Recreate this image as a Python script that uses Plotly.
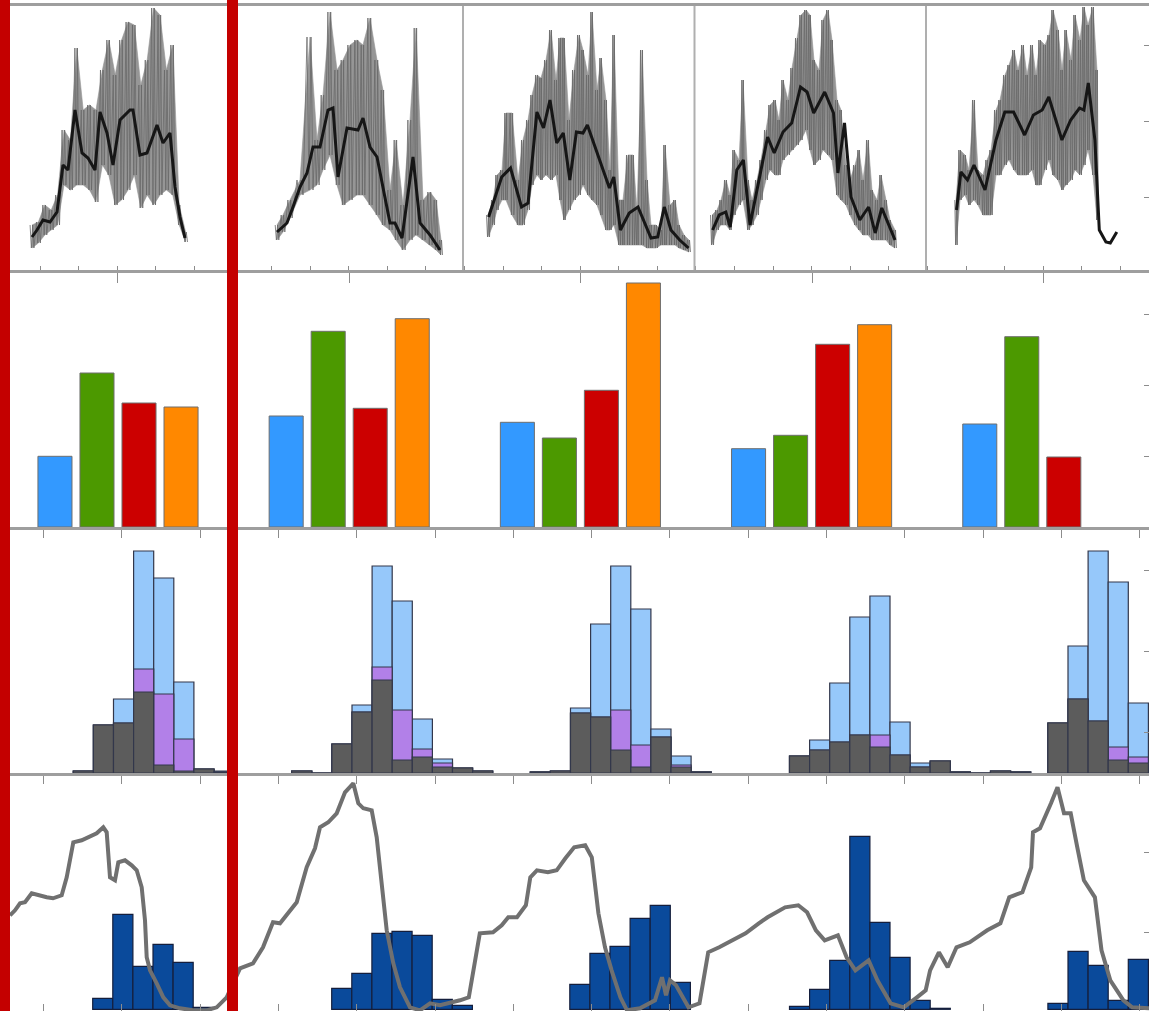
import plotly.graph_objects as go

# ======================= DATA =======================
COL_W = 231.5          # width of one column strip (t units)

# ---- Row 1 : raw (grey) and smoothed (black) series, one per column ----
c1_t = [32, 37, 43, 50, 57, 63, 68, 75, 82, 88, 95, 100, 107, 113, 120, 130, 133, 140, 147, 157, 163, 170, 175, 180, 185]
c1_smooth = [31, 38, 48, 46, 56, 103, 98, 158, 115, 110, 98, 156, 135, 103, 148, 158, 158, 113, 115, 143, 125, 135, 81, 51, 30]
c1_raw_t = [32, 38.4, 44.8, 51.2, 57.6, 64, 70.4, 76.8, 83.2, 89.6, 96, 102.4, 108.8, 115.2, 121.6, 128, 134.4,
            140.8, 147.2, 153.6, 160, 166.4, 172.8, 179.2, 185.6]
c1_raw_hi = [43, 46, 63, 58, 73, 138, 128, 220, 158, 163, 158, 198, 228, 193, 228, 246, 243, 183, 208, 260, 253, 198, 223, 63, 36]
c1_raw_lo = [20, 25, 33, 38, 43, 83, 78, 83, 83, 78, 66, 103, 93, 63, 68, 78, 93, 60, 73, 63, 73, 78, 73, 43, 26]

c2_t = [277, 287, 293, 300, 307, 313, 320, 328, 333, 338, 347, 358, 363, 370, 377, 390, 395, 402, 413, 420, 430, 440]
c2_smooth = [36, 45, 61, 81, 95, 121, 121, 158, 160, 91, 140, 138, 150, 121, 111, 45, 45, 30, 111, 45, 33, 18]
c2_raw_t = [277, 283, 290, 300, 310, 317, 323, 330, 337, 343, 350, 357, 363, 370, 377, 383, 390, 396, 403, 410, 416, 423, 430, 436, 441]
c2_raw_hi = [43, 53, 68, 88, 231, 128, 173, 256, 198, 208, 223, 228, 223, 250, 208, 178, 78, 128, 63, 148, 240, 68, 76, 68, 28]
c2_raw_lo = [28, 36, 50, 73, 78, 83, 98, 113, 83, 63, 68, 73, 73, 63, 53, 43, 38, 28, 18, 28, 33, 28, 23, 18, 13]

c3_t = [488.6, 501.7, 510.5, 521.5, 528.1, 536.9, 543.5, 550, 556.7, 563.3, 569.8, 576.4, 583, 587.4, 609.4, 613.8,
        620.4, 629.2, 638, 651, 657.7, 664.3, 670.9, 679.7, 688.5]
c3_smooth = [51, 91, 100, 61, 65, 156, 140, 168, 125, 135, 88, 136, 135, 143, 80, 91, 38, 55, 61, 30, 31, 61, 38, 28, 20]
c3_raw_t = [488, 493, 497, 502, 506, 512, 518, 523, 528, 532, 537, 541, 546, 551, 556, 560, 564, 569, 574, 579,
            583, 588, 592, 597, 601, 606, 610, 614, 619, 623, 628, 633, 637, 642, 647, 651, 656, 661, 665, 670,
            675, 679, 684, 689]
c3_raw_hi = [53, 68, 93, 98, 155, 155, 88, 128, 148, 173, 193, 190, 208, 238, 188, 230, 230, 148, 198, 233,
             218, 193, 256, 178, 210, 168, 98, 233, 68, 68, 113, 113, 58, 218, 88, 43, 43, 38, 123, 63,
             68, 43, 33, 28]
c3_raw_lo = [31, 43, 58, 68, 68, 53, 43, 43, 58, 83, 93, 88, 93, 88, 93, 68, 48, 58, 68, 73,
             83, 73, 68, 63, 53, 38, 38, 43, 23, 23, 23, 23, 23, 23, 20, 20, 20, 23, 23, 23,
             23, 20, 18, 16]

c4_t = [712.6, 719.2, 725.8, 730.2, 736.8, 743.4, 750, 767.6, 774.2, 783, 791.7, 800.5, 807.1, 813.7, 824.7, 833.5,
        837.9, 844.5, 851, 859.8, 868.6, 875.2, 881.8, 895]
c4_smooth = [38, 53, 56, 41, 98, 108, 43, 131, 115, 136, 145, 181, 176, 155, 176, 155, 95, 145, 71, 48, 61, 35, 60, 28]
c4_raw_t = [712, 717, 721, 726, 730, 734, 739, 743, 748, 752, 757, 761, 766, 770, 775, 779, 783, 788, 792, 797,
            801, 806, 810, 814, 819, 823, 828, 832, 837, 841, 846, 850, 855, 859, 863, 868, 872, 877, 881, 886,
            890, 895]
c4_raw_hi = [53, 58, 68, 88, 73, 118, 108, 188, 88, 68, 88, 108, 138, 163, 168, 148, 188, 168, 200, 230,
             253, 258, 253, 208, 198, 248, 258, 228, 168, 158, 103, 88, 103, 118, 88, 128, 78, 68, 93, 68,
             48, 38]
c4_raw_lo = [23, 38, 43, 43, 38, 53, 63, 68, 38, 43, 53, 68, 88, 98, 93, 93, 108, 113, 118, 123,
             128, 138, 118, 103, 108, 118, 113, 108, 73, 68, 63, 53, 43, 38, 33, 33, 28, 28, 28, 28,
             23, 20]

c5_t = [956.5, 960.9, 967.5, 974, 985, 996, 1004.8, 1013.6, 1024.6, 1033.4, 1042.2, 1048.8, 1061.9, 1070.7,
        1079.5, 1083.9, 1088.3, 1094.9, 1099.3, 1105.9, 1110.3, 1116.8]
c5_smooth = [58, 96, 88, 103, 78, 128, 156, 156, 133, 153, 158, 171, 128, 148, 160, 158, 185, 128, 38, 26, 25, 36]
c5_raw_t = [956, 960, 965, 969, 974, 978, 983, 987, 991, 996, 1000, 1005, 1009, 1014, 1018, 1023, 1027, 1032,
            1036, 1040, 1045, 1049, 1053, 1058, 1062, 1066, 1071, 1075, 1080, 1084, 1088, 1093, 1097]
c5_raw_hi = [68, 118, 113, 98, 168, 98, 93, 108, 118, 158, 168, 193, 203, 218, 198, 223, 193, 223,
             193, 228, 223, 233, 258, 238, 198, 238, 208, 253, 228, 261, 243, 261, 198]
c5_raw_lo = [23, 68, 73, 63, 68, 63, 53, 53, 53, 93, 93, 103, 108, 98, 93, 93, 93, 98,
             83, 83, 98, 108, 93, 88, 78, 83, 88, 98, 93, 103, 118, 93, 48]

# ---- Row 2 : four categories per column ----
columns = [0, 1, 2, 3, 4]
bar_blue = [70.7, 111, 104.7, 78.3, 103]
bar_green = [154, 195.7, 89, 91.7, 190.3]
bar_red = [124, 118.7, 136.7, 182.7, 70]
bar_orange = [120, 208.3, 244, 202.3, None]

# ---- Row 3 : overlaid histograms (all / subset A / subset B) ----
BIN_W = 20.1
h3_start = [73.3, 291.7, 530.3, 789.5, 1047.9]
h3_all = [[2, 48, 74, 222, 195, 91, 4, 2],
          [2, 0, 29, 68, 207, 172, 54, 14, 5, 2],
          [1, 2, 65, 149, 207, 164, 44, 17, 1],
          [17, 33, 90, 156, 177, 51, 10, 12, 1, 0, 2, 1],
          [50, 127, 222, 191, 70]]
h3_mid = [[2, 48, 50, 104, 79, 34, 4, 1],
          [2, 0, 29, 61, 106, 63, 24, 10, 5, 2],
          [1, 2, 60, 56, 63, 28, 36, 8, 1],
          [17, 23, 31, 38, 38, 18, 6, 12, 1, 0, 2, 1],
          [50, 74, 52, 26, 16]]
h3_low = [[2, 48, 50, 81, 8, 2, 4, 1],
          [2, 0, 29, 61, 93, 13, 16, 6, 5, 2],
          [1, 2, 60, 56, 23, 6, 36, 6, 1],
          [17, 23, 31, 38, 26, 18, 6, 12, 1, 0, 2, 1],
          [50, 74, 52, 13, 10]]

# ---- Row 4 : histogram + cumulative grey trace ----
h4_start = [92.7, 331.7, 569.8, 789.5, 1047.9]
h4_counts = [[11, 95, 43, 65, 47, 2],
             [21, 36, 76, 78, 74, 10, 4],
             [25, 56, 63, 91, 104, 27],
             [3, 20, 49, 173, 87, 52, 9, 1],
             [6, 58, 44, 9, 50]]
line4_t = [10, 15, 20, 25, 31.7, 38, 46.7, 53, 61.7, 66.7, 73.3, 81.7, 88.3, 96.7, 103.3, 106.7, 110, 115, 118.3,
           125, 131.7, 136.7, 141.7, 145, 146.7, 150, 156.7, 163.3, 170, 180, 193, 206.7, 216.7, 226.7,
           240, 253, 263, 273, 280, 290, 296.7, 306.7, 315, 320, 328.3, 336.7, 345, 353.3, 358.3, 363.3, 371.7,
           376.7, 381.7, 386.7, 393.3, 400, 410, 420, 430, 440, 460, 468.8,
           479.8, 493, 501.7, 508.3, 517, 525.9, 530.3, 536.9, 547.9, 556.7, 565.4, 574.2, 585.2, 591.8, 598.4,
           605, 611.6, 620.4, 627, 640, 655, 662, 666, 670, 676, 684, 688.5, 699.5,
           708.2, 719.2, 728, 736.8, 745.6, 758.8, 767.6, 785.1, 798.3, 807.1, 815.9, 824.7, 837.9, 846.6, 855.4,
           868.6, 877.4, 890.6, 903.8, 916.9, 925.7, 930.1, 938.9, 947.7, 956.5, 969.7, 987.2, 1000.4, 1009.2,
           1022.4, 1031.2, 1033, 1040, 1051, 1057.5, 1064, 1070.7, 1077.3, 1083.9, 1094.9, 1101.5, 1110.3,
           1123.4, 1132.2, 1149]
line4_v = [94, 99, 106, 107, 116, 114, 112, 111, 114, 132, 167, 169, 172, 176, 182, 177, 132, 129, 147,
           149, 144, 139, 122, 89, 52, 39, 26, 12, 4, 1, -1, -1, 2, 12,
           41, 46, 62, 87, 86, 99, 107, 142, 161, 182, 187, 196, 217, 226, 206, 201, 199,
           172, 129, 79, 46, 22, 2, -1, 6, 4, 9, 12,
           76, 77, 84, 92, 92, 104, 132, 139, 137, 139, 151, 162, 164, 152, 96,
           62, 39, 12, -1, 1, 9, 32, 14, 29, 24, 9, 2, 6,
           57, 62, 67, 71, 76, 86, 92, 102, 104, 97, 79, 69, 74, 52, 39,
           49, 29, 6, 2, 12, 19, 39, 57, 42, 62, 67, 79, 86, 112,
           117, 142, 177, 181, 206, 222, 196, 196, 162, 129, 112, 59, 29,
           9, 2, 1]

# ======================= FIGURE =======================
W, H = 1149, 1011
def py(p):                      # pixel row -> paper fraction (layout only)
    return 1 - p / H

fig = go.Figure()

BAND_C = "rgb(150,150,150)"
STROKE_C = "rgba(105,105,105,0.9)"
SMOOTH_C = "rgb(22,22,22)"

def strokes(t, hi, lo):
    """Raw series drawn as vertical strokes between its low and high envelope."""
    xs, ys = [], []
    for i in range(len(t)):
        d = (t[1] - t[0]) if i == 0 else (t[i] - t[i - 1])
        for f, v in ((-0.3, hi[i]), (-0.1, lo[i]), (0.1, hi[i]), (0.3, lo[i])):
            xs.append(t[i] + f * d)
            ys.append(v)
    return xs, ys

row1 = [(c1_t, c1_smooth, c1_raw_t, c1_raw_hi, c1_raw_lo),
        (c2_t, c2_smooth, c2_raw_t, c2_raw_hi, c2_raw_lo),
        (c3_t, c3_smooth, c3_raw_t, c3_raw_hi, c3_raw_lo),
        (c4_t, c4_smooth, c4_raw_t, c4_raw_hi, c4_raw_lo),
        (c5_t, c5_smooth, c5_raw_t, c5_raw_hi, c5_raw_lo)]
for t, sm, rt, hi, lo in row1:
    fig.add_trace(go.Scatter(x=list(rt) + list(rt)[::-1], y=list(hi) + list(lo)[::-1],
                             mode="lines", fill="toself", fillcolor=BAND_C,
                             line=dict(color=BAND_C, width=0.6),
                             xaxis="x", yaxis="y", showlegend=False, hoverinfo="skip"))
    zx, zy = strokes(rt, hi, lo)
    fig.add_trace(go.Scatter(x=zx, y=zy, mode="lines", line=dict(color=STROKE_C, width=0.9),
                             xaxis="x", yaxis="y", showlegend=False, hoverinfo="skip"))
for t, sm, rt, hi, lo in row1:
    fig.add_trace(go.Scatter(x=t, y=sm, mode="lines", line=dict(color=SMOOTH_C, width=3),
                             xaxis="x", yaxis="y", showlegend=False))

# Row 2 grouped bars
EDGE2 = dict(color="rgb(110,110,110)", width=1)
for vals, col in ((bar_blue, "#3399FF"), (bar_green, "#4C9900"),
                  (bar_red, "#CC0000"), (bar_orange, "#FF8800")):
    fig.add_trace(go.Bar(x=columns, y=vals, marker=dict(color=col, line=EDGE2),
                         xaxis="x2", yaxis="y2", showlegend=False))

# Row 3 overlaid histograms
def hist_xy(starts, counts):
    xs, ys = [], []
    for s, cs in zip(starts, counts):
        for i, c in enumerate(cs):
            xs.append(s + BIN_W * (i + 0.5))
            ys.append(c)
    return xs, ys

EDGE3 = dict(color="rgb(50,55,75)", width=1.2)
for data, col in ((h3_all, "rgb(150,200,250)"), (h3_mid, "rgb(178,128,232)"), (h3_low, "rgb(92,92,92)")):
    hx, hy = hist_xy(h3_start, data)
    fig.add_trace(go.Bar(x=hx, y=hy, width=BIN_W, offset=-BIN_W / 2,
                         marker=dict(color=col, line=EDGE3),
                         xaxis="x3", yaxis="y3", showlegend=False))

# Row 4 histogram + grey line
hx, hy = hist_xy(h4_start, h4_counts)
fig.add_trace(go.Bar(x=hx, y=hy, width=BIN_W, offset=-BIN_W / 2,
                     marker=dict(color="rgb(10,74,155)", line=dict(color="rgb(20,30,60)", width=1.2)),
                     xaxis="x4", yaxis="y4", showlegend=False))
fig.add_trace(go.Scatter(x=line4_t, y=line4_v, mode="lines",
                         line=dict(color="rgb(112,112,112)", width=4),
                         xaxis="x4", yaxis="y4", showlegend=False))

# ======================= LAYOUT =======================
SEP = "rgb(158,158,158)"
TICK = "rgb(140,140,140)"
centers = [COL_W * (k + 0.5) + 2 for k in range(5)]

def xax(**kw):
    d = dict(domain=[0, 1], showgrid=False, zeroline=False, showticklabels=False,
             showline=True, linecolor=SEP, linewidth=3, tickcolor=TICK)
    d.update(kw)
    return d

def yax(dom, rng, tick0, dtick, anchor):
    return dict(domain=dom, range=rng, showgrid=False, zeroline=False, showticklabels=False,
                showline=True, linecolor="rgb(215,215,215)", linewidth=1, mirror="ticks",
                ticks="inside", ticklen=5, tickcolor=TICK, tick0=tick0, dtick=dtick, anchor=anchor)

row1_dom = [py(270), py(6)]
row2_dom = [py(527), py(270)]
row3_dom = [py(773), py(527)]
row4_dom = [0, py(773)]

fig.update_layout(
    width=W, height=H, autosize=False,
    margin=dict(l=0, r=0, t=0, b=0, pad=0),
    paper_bgcolor="white", plot_bgcolor="white",
    barmode="group", bargap=0.273, bargroupgap=0.19,
    xaxis=xax(range=[0, W], anchor="y", mirror=True,
              tickmode="array", tickvals=centers, ticks="outside", ticklen=10,
              minor=dict(tickmode="linear", tick0=40, dtick=COL_W / 6, ticks="inside",
                         ticklen=4, tickcolor=TICK)),
    yaxis=yax(row1_dom, [-2, 262], 71, 76, "x"),
    xaxis2=xax(range=[-118 / 231.2, (W - 118) / 231.2], anchor="y2",
               tickmode="linear", tick0=(43.5 - 118) / 231.2, dtick=78.3 / 231.2,
               ticks="outside", ticklen=8),
    yaxis2=yax(row2_dom, [0, 257], 70.5, 71, "x2"),
    xaxis3=xax(range=[0, W], anchor="y3",
               tickmode="linear", tick0=43.5, dtick=78.3, ticks="outside", ticklen=8),
    yaxis3=yax(row3_dom, [0, 246], 41, 81, "x3"),
    xaxis4=xax(range=[0, W], anchor="y4",
               tickmode="linear", tick0=43.5, dtick=78.3, ticks="inside", ticklen=7),
    yaxis4=yax(row4_dom, [-1.7, 236.3], 77, 79.5, "x4"),
)

shapes = []
# panel borders inside the first row
for k in (2, 3, 4):
    shapes.append(dict(type="line", xref="x", yref="y domain", x0=COL_W * k, x1=COL_W * k,
                       y0=0, y1=1, line=dict(color="rgb(175,175,175)", width=2), layer="above"))
# red separator bars
RED = "rgb(196,0,0)"
shapes.append(dict(type="rect", xref="paper", yref="paper", x0=0, x1=10 / W, y0=0, y1=1,
                   fillcolor=RED, line=dict(width=0), layer="above"))
shapes.append(dict(type="rect", xref="paper", yref="paper", x0=227 / W, x1=238 / W, y0=0, y1=1,
                   fillcolor=RED, line=dict(width=0), layer="above"))
fig.update_layout(shapes=shapes)

fig.write_html("out.html", config={"displayModeBar": False},
               post_script="document.body.style.margin='0';document.body.style.overflow='hidden';")
